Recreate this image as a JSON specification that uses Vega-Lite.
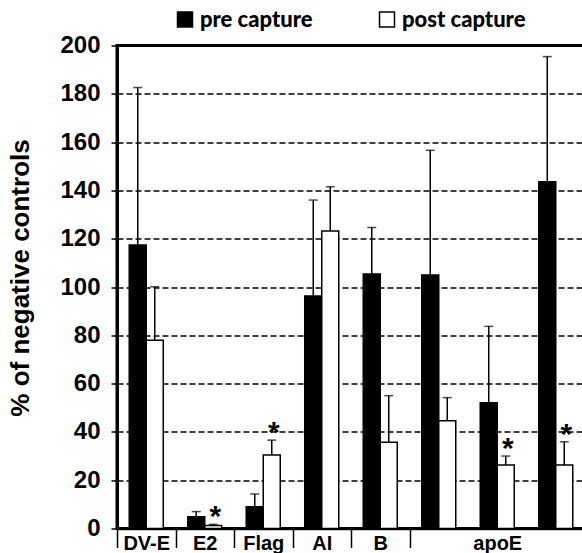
{
  "$schema": "https://vega.github.io/schema/vega-lite/v6.json",
  "width": 468,
  "height": 483,
  "autosize": {"type": "none"},
  "padding": {"left": 117, "top": 45.5, "right": 0, "bottom": 24.5},
  "config": {
    "font": "Liberation Sans",
    "view": {"stroke": "black", "strokeWidth": 3}
  },
  "data": {
    "values": [
      {"pos": "DV-E", "series": "pre capture", "value": 117.4, "err": 182.6, "star": false},
      {"pos": "DV-E", "series": "post capture", "value": 77.9, "err": 100.1, "star": false},
      {"pos": "E2", "series": "pre capture", "value": 4.9, "err": 7.0, "star": false},
      {"pos": "E2", "series": "post capture", "value": 1.2, "err": 1.7, "star": true},
      {"pos": "Flag", "series": "pre capture", "value": 9.0, "err": 14.3, "star": false},
      {"pos": "Flag", "series": "post capture", "value": 30.4, "err": 36.6, "star": true},
      {"pos": "AI", "series": "pre capture", "value": 96.3, "err": 136.0, "star": false},
      {"pos": "AI", "series": "post capture", "value": 123.2, "err": 141.5, "star": false},
      {"pos": "B", "series": "pre capture", "value": 105.4, "err": 124.6, "star": false},
      {"pos": "B", "series": "post capture", "value": 35.7, "err": 55.0, "star": false},
      {"pos": "apoE1", "series": "pre capture", "value": 105.0, "err": 156.6, "star": false},
      {"pos": "apoE1", "series": "post capture", "value": 44.6, "err": 54.2, "star": false},
      {"pos": "apoE2", "series": "pre capture", "value": 52.1, "err": 83.7, "star": false},
      {"pos": "apoE2", "series": "post capture", "value": 26.3, "err": 30.0, "star": true},
      {"pos": "apoE3", "series": "pre capture", "value": 143.6, "err": 195.4, "star": false},
      {"pos": "apoE3", "series": "post capture", "value": 26.3, "err": 35.9, "star": true}
    ]
  },
  "encoding": {
    "x": {
      "field": "pos",
      "type": "nominal",
      "sort": ["DV-E", "E2", "Flag", "AI", "B", "apoE1", "apoE2", "apoE3"],
      "scale": {"paddingInner": 0, "paddingOuter": 0},
      "axis": {
        "title": null,
        "labelAngle": 0,
        "labelExpr": "datum.value == 'apoE1' || datum.value == 'apoE3' ? '' : datum.value == 'apoE2' ? 'apoE' : datum.value",
        "labelFont": "Liberation Sans",
        "labelFontSize": 20,
        "labelFontWeight": "bold",
        "labelColor": "black",
        "labelPadding": -14,
        "labelBaseline": "top",
        "domain": true,
        "domainColor": "black",
        "domainWidth": 2.5,
        "tickBand": "extent",
        "tickSize": 19,
        "tickWidth": 1.5,
        "tickColor": "black",
        "tickOpacity": {"condition": {"test": "datum.value == 'apoE1' || datum.value == 'apoE2'", "value": 0}, "value": 1},
        "grid": false
      }
    },
    "xOffset": {
      "field": "series",
      "type": "nominal",
      "sort": ["pre capture", "post capture"],
      "scale": {"paddingInner": 0, "paddingOuter": 0.72}
    }
  },
  "layer": [
    {
      "mark": {"type": "bar", "stroke": "black", "strokeWidth": 1.5},
      "encoding": {
        "y": {
          "field": "value",
          "type": "quantitative",
          "scale": {"domain": [0, 200], "nice": false},
          "axis": {
            "values": [0, 20, 40, 60, 80, 100, 120, 140, 160, 180, 200],
            "title": "% of negative controls",
            "titleFont": "Liberation Sans",
            "titleFontSize": 26,
            "titleFontWeight": "bold",
            "titleColor": "black",
            "titleAngle": -90,
            "titleAlign": "center",
            "titleBaseline": "bottom",
            "titleX": -84,
            "titleY": 232,
            "labelFont": "Liberation Sans",
            "labelFontSize": 24,
            "labelFontWeight": "bold",
            "labelColor": "black",
            "labelPadding": 11,
            "domain": true,
            "domainColor": "black",
            "domainWidth": 3,
            "ticks": true,
            "tickSize": 6,
            "tickWidth": 1.5,
            "tickColor": "black",
            "grid": true,
            "gridColor": "black",
            "gridWidth": 1.6,
            "gridDash": [6, 3],
            "gridOpacity": 1
          }
        },
        "fill": {
          "field": "series",
          "type": "nominal",
          "scale": {"domain": ["pre capture", "post capture"], "range": ["black", "white"]},
          "legend": {
            "orient": "none",
            "legendX": 57,
            "legendY": -37,
            "direction": "horizontal",
            "title": null,
            "padding": 0,
            "symbolType": "square",
            "symbolSize": 225,
            "symbolStrokeColor": "black",
            "symbolStrokeWidth": 1.5,
            "labelFont": "Lato",
            "labelFontSize": 22,
            "labelFontWeight": 900,
            "labelColor": "black",
            "labelOffset": 4,
            "columnPadding": 63
          }
        }
      }
    },
    {
      "mark": {"type": "rule", "color": "black", "strokeWidth": 1.5},
      "encoding": {
        "y": {"field": "value", "type": "quantitative"},
        "y2": {"field": "err"}
      }
    },
    {
      "mark": {"type": "tick", "color": "black", "size": 9, "thickness": 1.5},
      "encoding": {
        "y": {"field": "err", "type": "quantitative"}
      }
    },
    {
      "transform": [{"filter": "datum.star"}],
      "mark": {"type": "text", "text": "*", "font": "Liberation Sans", "fontSize": 30, "fontWeight": "bold", "baseline": "alphabetic", "dy": 2, "dx": 2, "color": "black"},
      "encoding": {
        "y": {"field": "err", "type": "quantitative"}
      }
    }
  ]
}
